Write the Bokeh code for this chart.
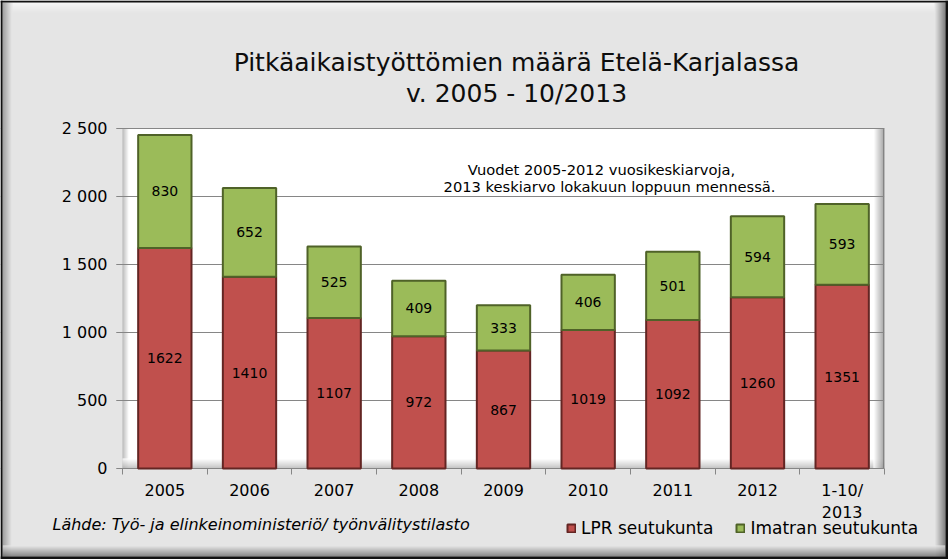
from bokeh.plotting import figure
from bokeh.models import (ColumnDataSource, Range1d, FixedTicker, BoxAnnotation, Label, LabelSet,
                          Legend, LegendItem)
from bokeh.core.properties import value
from bokeh.embed import file_html
from bokeh.resources import INLINE

# ---------------- data ----------------
categories = ["2005", "2006", "2007", "2008", "2009", "2010", "2011", "2012", "1-10/\n2013"]
lpr_values = [1622, 1410, 1107, 972, 867, 1019, 1092, 1260, 1351]
imatra_values = [830, 652, 525, 409, 333, 406, 501, 594, 593]
series_names = ["LPR seutukunta", "Imatran seutukunta"]
ytick_values = [0, 500, 1000, 1500, 2000, 2500]
ytick_labels = ["0", "500", "1 000", "1 500", "2 000", "2 500"]
title_lines = ["Pitkäaikaistyöttömien määrä Etelä-Karjalassa", "v. 2005 - 10/2013"]
note_lines = ["Vuodet 2005-2012 vuosikeskiarvoja,", "2013 keskiarvo lokakuun loppuun mennessä."]
source_text = "Lähde: Työ- ja elinkeinoministeriö/ työnvälitystilasto"

# ---------------- styling / layout ----------------
FONT = "DejaVu Sans"
W, H = 948, 559
FL, FR, FT, FB = 122, 884, 128, 468          # plot area in canvas pixels
YMAX = 2500
BG = "#e5e5e5"
RED, RED_LINE = "#c0504d", "#632523"
GREEN, GREEN_LINE = "#9bbb59", "#4f6228"
GRID = "#868686"

n = len(categories)
xpos = [i + 0.5 for i in range(n)]          # category slot centres
bounds = list(range(n + 1))                  # category slot boundaries

# the frame fills the whole canvas; ranges are set so that the plot area sits at FL..FR / FT..FB
xpx = (FR - FL) / n
ypx = (FB - FT) / YMAX
p = figure(width=W, height=H, output_backend="svg", toolbar_location=None, min_border=0,
           x_range=Range1d(-FL / xpx, n + (W - FR) / xpx),
           y_range=Range1d(-(H - FB) / ypx, YMAX + FT / ypx),
           background_fill_color=BG, border_fill_color=BG, outline_line_color=None)

# y axis (fixed at x = 0)
yax = p.yaxis[0]
yax.fixed_location = 0
yax.ticker = FixedTicker(ticks=ytick_values)
yax.major_label_overrides = dict(zip(ytick_values, ytick_labels))
yax.axis_line_color = None
yax.major_tick_out = 6
yax.major_tick_in = 0
yax.major_tick_line_color = GRID
yax.minor_tick_line_color = None
yax.major_label_standoff = 9
yax.major_label_text_font = FONT
yax.major_label_text_font_size = "16px"
yax.major_label_text_color = "black"
p.ygrid.ticker = FixedTicker(ticks=ytick_values)
p.ygrid.grid_line_color = GRID
p.xgrid.visible = False

# x axis (fixed at y = 0): labels at slot centres, ticks at slot boundaries
xax = p.xaxis[0]
xax.fixed_location = 0
xax.ticker = FixedTicker(ticks=xpos, minor_ticks=bounds)
xax.major_label_overrides = dict(zip(xpos, categories))
xax.axis_line_color = None
xax.major_tick_line_color = None
xax.major_tick_out = 0
xax.major_tick_in = 0
xax.minor_tick_line_color = GRID
xax.minor_tick_out = 6
xax.minor_tick_in = 0
xax.major_label_standoff = 6
xax.major_label_text_font = FONT
xax.major_label_text_font_size = "16px"
xax.major_label_text_color = "black"


# ---------------- decoration helpers (canvas units) ----------------
def mix(c0, c1, t):
    a = [int(c0[i:i + 2], 16) for i in (1, 3, 5)]
    b = [int(c1[i:i + 2], 16) for i in (1, 3, 5)]
    return "#%02x%02x%02x" % tuple(round(a[k] + (b[k] - a[k]) * t) for k in range(3))


def box(l, r, t, b, color, level):
    p.add_layout(BoxAnnotation(left=l, right=r, top=t, bottom=b,
                               left_units="canvas", right_units="canvas",
                               top_units="canvas", bottom_units="canvas",
                               fill_color=color, fill_alpha=1, line_color=None, level=level))


def xgrad(x0, x1, y0, y1, c0, c1, level):
    k = x1 - x0
    for i in range(k):
        box(x0 + i, x0 + i + 1, y0, y1, mix(c0, c1, i / max(k - 1, 1)), level)


def ygrad(x0, x1, y0, y1, c0, c1, level):
    k = y1 - y0
    for i in range(k):
        box(x0, x1, y0 + i, y0 + i + 1, mix(c0, c1, i / max(k - 1, 1)), level)


# plot area (white) with its 3-D wall, below the grid lines
box(FL, FR, FT, FB, "#ffffff", "image")
xgrad(FL, FL + 7, FT, FB, "#a8a8a8", "#ffffff", "image")
ygrad(FL, FR, FB - 10, FB, "#ffffff", "#b4b4b4", "image")
xgrad(FR - 11, FR, FT, FB, "#ffffff", "#8a8a8a", "image")
box(FR - 1, FR, FT, FB, "#5e5e5e", "image")

# chart-area background over the parts of the grid lines outside the plot area
box(0, FL - 6, 0, H, BG, "underlay")
box(FR, W, 0, H, BG, "underlay")
box(0, W, 0, FT - 1, BG, "underlay")
box(0, W, FB + 1, H, BG, "underlay")

# bevelled outer frame
ygrad(2, W - 3, 2, 13, "#fbfbfb", BG, "underlay")
xgrad(2, 12, 2, H - 3, "#8a8a8a", BG, "underlay")
xgrad(934, W - 3, 2, H - 3, BG, "#666666", "underlay")
ygrad(2, W - 3, 545, H - 3, BG, "#6e6e6e", "underlay")
box(0, W, 0, 2, "#111111", "underlay")
box(0, 2, 0, H, "#111111", "underlay")
box(W - 3, W, 0, H, "#111111", "underlay")
box(0, W, H - 3, H, "#111111", "underlay")

# ---------------- bars ----------------
source = ColumnDataSource(dict(
    x=xpos, lpr=lpr_values, imatra=imatra_values,
    lpr_mid=[v / 2 for v in lpr_values],
    ima_mid=[a + b / 2 for a, b in zip(lpr_values, imatra_values)],
    lpr_txt=[str(v) for v in lpr_values],
    ima_txt=[str(v) for v in imatra_values],
))
rs = p.vbar_stack(["lpr", "imatra"], x="x", width=0.63, source=source,
                  fill_color=[RED, GREEN], line_color=[RED_LINE, GREEN_LINE], line_width=2)

for col, txt in (("lpr_mid", "lpr_txt"), ("ima_mid", "ima_txt")):
    p.add_layout(LabelSet(x="x", y=col, text=txt, source=source, text_align="center",
                          text_baseline="middle", text_font=value(FONT),
                          text_font_size="14px", text_color="black"))

# ---------------- texts ----------------
for txt, y in zip(title_lines, (62, 93)):
    p.add_layout(Label(x=516, y=y, x_units="canvas", y_units="canvas", text=txt,
                       text_align="center", text_baseline="middle", text_font=FONT,
                       text_font_size="25px", text_color="#0d0d0d"))
for txt, x, y in zip(note_lines, (601, 609), (169, 186)):
    p.add_layout(Label(x=x, y=y, x_units="canvas", y_units="canvas", text=txt,
                       text_align="center", text_baseline="middle", text_font=FONT,
                       text_font_size="14.7px", text_color="black"))
p.add_layout(Label(x=52, y=524, x_units="canvas", y_units="canvas", text=source_text,
                   text_align="left", text_baseline="middle", text_font=FONT,
                   text_font_style="italic", text_font_size="16px", text_color="black"))

# ---------------- legend ----------------
legend = Legend(items=[LegendItem(label=series_names[0], renderers=[rs[0]]),
                       LegendItem(label=series_names[1], renderers=[rs[1]])],
                orientation="horizontal", location=(566, 21),
                padding=0, margin=0, spacing=22, glyph_width=10, glyph_height=10,
                label_standoff=5, label_text_font=FONT, label_text_font_size="17px",
                label_text_color="black", background_fill_alpha=0, border_line_color=None)
p.add_layout(legend, "center")

open("out.html", "w").write(file_html(p, INLINE))
